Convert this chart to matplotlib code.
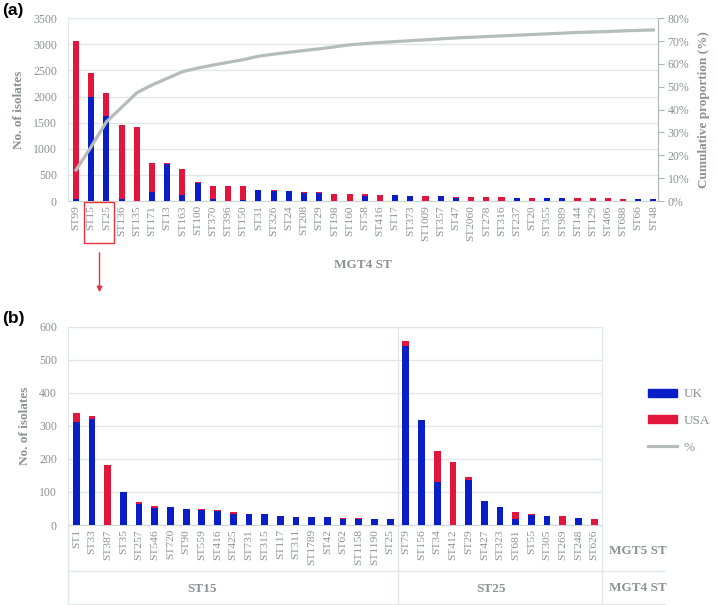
import matplotlib.pyplot as plt
import numpy as np
from matplotlib.lines import Line2D
from matplotlib.patches import Patch, Rectangle, FancyArrowPatch

# ---- panel (a): MGT4 STs ----
mgt4_st = ["ST99", "ST15", "ST25", "ST136", "ST135", "ST171", "ST13", "ST163",
           "ST100", "ST370", "ST396", "ST150", "ST31", "ST326", "ST24", "ST208",
           "ST29", "ST198", "ST160", "ST58", "ST416", "ST17", "ST373", "ST1009",
           "ST357", "ST47", "ST2060", "ST278", "ST316", "ST237", "ST20", "ST355",
           "ST989", "ST144", "ST129", "ST406", "ST688", "ST66", "ST48"]
mgt4_uk = [40, 2000, 1630, 30, 0, 180, 705, 115, 340, 30, 0, 15, 207, 185, 187,
           162, 152, 0, 0, 89, 0, 110, 89, 0, 89, 57, 0, 0, 0, 64, 0, 57, 57,
           0, 0, 0, 0, 42, 45]
mgt4_usa = [3025, 458, 445, 1432, 1411, 548, 17, 498, 25, 262, 290, 268, 4, 19,
            4, 10, 14, 140, 140, 38, 115, 5, 13, 96, 0, 19, 70, 70, 70, 0, 57,
            0, 0, 51, 51, 51, 45, 3, 0]
cum_pct = [13.6, 23.8, 34.7, 41.0, 47.4, 50.8, 53.7, 56.6, 58.2, 59.5, 60.7,
           61.9, 63.4, 64.3, 65.1, 65.9, 66.6, 67.5, 68.4, 68.9, 69.4, 69.8,
           70.2, 70.6, 71.0, 71.4, 71.7, 72.0, 72.3, 72.6, 72.9, 73.2, 73.5,
           73.8, 74.0, 74.2, 74.5, 74.7, 74.9]

# ---- panel (b): MGT5 STs within ST15 and ST25 ----
st15_mgt5 = ["ST1", "ST33", "ST387", "ST35", "ST257", "ST546", "ST720", "ST90",
             "ST559", "ST416", "ST425", "ST731", "ST315", "ST117", "ST311",
             "ST1789", "ST42", "ST62", "ST1158", "ST1190", "ST25"]
st15_uk = [313, 322, 0, 101, 65, 52, 54, 49, 46, 43, 32, 34, 33, 27, 24, 23, 23,
           17, 19, 19, 19]
st15_usa = [25, 7, 183, 0, 5, 4, 0, 0, 1, 2, 7, 0, 0, 0, 0, 0, 0, 4, 1, 0, 0]
st25_mgt5 = ["ST79", "ST156", "ST34", "ST412", "ST29", "ST427", "ST323",
             "ST681", "ST55", "ST305", "ST269", "ST248", "ST626"]
st25_uk = [542, 318, 131, 0, 135, 72, 53, 19, 30, 26, 0, 20, 0]
st25_usa = [16, 0, 94, 190, 10, 0, 0, 19, 2, 0, 26, 0, 18]

BLUE = "#0a1ec8"
RED = "#e2163c"
LINE = "#b4bcbc"
TXT = "#8a9292"
GRID = "#e3e6e6"
SERIF = "Liberation Serif"

W, H = 717, 605


def px(x, y):
    return x / W, 1 - y / H


fig = plt.figure(figsize=(7.17, 6.05), dpi=100)

# ================= panel (a) =================
ax1 = fig.add_axes([68 / W, 1 - 201 / H, 590 / W, 182.7 / H])
x1 = np.arange(len(mgt4_st))
ax1.bar(x1, mgt4_uk, width=0.4, color=BLUE, zorder=3)
ax1.bar(x1, mgt4_usa, width=0.4, bottom=mgt4_uk, color=RED, zorder=3)
ax1.set_xlim(-0.53, 38.3)
ax1.set_ylim(0, 3500)
ax1.set_yticks(np.arange(0, 3501, 500))
ax1.grid(axis="y", color=GRID, lw=1, zorder=0)
ax1.set_xticks(x1)
ax1.set_xticklabels(mgt4_st, rotation=90, family=SERIF, fontsize=8.2, color=TXT)
ax1.tick_params(axis="x", length=0, pad=3)
ax1.tick_params(axis="y", length=0, pad=8, labelcolor=TXT, labelsize=8.5)
for lab in ax1.get_yticklabels():
    lab.set_family(SERIF)
for s in ["top", "right"]:
    ax1.spines[s].set_visible(False)
ax1.spines["left"].set_color(GRID)
ax1.spines["bottom"].set_color("#d0d4d4")
ax1.set_ylabel("No. of isolates", family=SERIF, fontsize=9.5, fontweight="bold",
               color=TXT, labelpad=6)
ax1.set_xlabel("MGT4 ST", family=SERIF, fontsize=9.5, fontweight="bold",
               color=TXT, labelpad=13)

ax1r = ax1.twinx()
ax1r.plot(x1, np.array(cum_pct) / 100, color=LINE, lw=2.3, zorder=4)
ax1r.set_ylim(0, 0.8)
ax1r.set_yticks(np.arange(0, 0.81, 0.1))
ax1r.set_yticklabels([f"{int(round(v * 100))}%" for v in np.arange(0, 0.81, 0.1)],
                     family=SERIF, fontsize=8.5, color=TXT)
ax1r.tick_params(axis="y", length=4, color="#b0b4b4", pad=3)
for s in ["top", "left", "bottom"]:
    ax1r.spines[s].set_visible(False)
ax1r.spines["right"].set_color("#b0b4b4")
ax1r.set_ylabel("Cumulative proportion (%)", family=SERIF, fontsize=9.5,
                fontweight="bold", color=TXT, labelpad=6)

# highlight box around ST15/ST25 labels and arrow
x0, y0 = px(84, 243)
x1b, y1b = px(114, 202)
fig.add_artist(Rectangle((x0, y0), x1b - x0, y1b - y0, transform=fig.transFigure,
                         fill=False, edgecolor="#e8323c", lw=1))
fig.add_artist(FancyArrowPatch(px(99.5, 250), px(99.5, 295),
                               transform=fig.transFigure, arrowstyle="-|>",
                               mutation_scale=8, color="#e8323c", lw=1))

# ================= panel (b) =================
ax2 = fig.add_axes([68 / W, 1 - 525 / H, 534 / W, 198.3 / H])
names_b = st15_mgt5 + st25_mgt5
uk_b = st15_uk + st25_uk
usa_b = st15_usa + st25_usa
x2 = np.arange(len(names_b))
ax2.bar(x2, uk_b, width=0.43, color=BLUE, zorder=3)
ax2.bar(x2, usa_b, width=0.43, bottom=uk_b, color=RED, zorder=3)
ax2.set_xlim(-0.53, 33.5)
ax2.set_ylim(0, 600)
ax2.set_yticks(np.arange(0, 601, 100))
ax2.grid(axis="y", color=GRID, lw=1, zorder=0)
ax2.set_xticks(x2)
ax2.set_xticklabels(names_b, rotation=90, family=SERIF, fontsize=8.2, color=TXT)
ax2.tick_params(axis="x", length=0, pad=3)
ax2.tick_params(axis="y", length=0, pad=8, labelcolor=TXT, labelsize=8.5)
for lab in ax2.get_yticklabels():
    lab.set_family(SERIF)
for s in ax2.spines.values():
    s.set_color(GRID)
ax2.spines["bottom"].set_color("#d0d4d4")
ax2.axvline(len(st15_mgt5) - 0.5, color=GRID, lw=1, zorder=1)
ax2.set_ylabel("No. of isolates", family=SERIF, fontsize=9.5, fontweight="bold",
               color=TXT, labelpad=6)

# category table under panel (b)
split_px = 68 + (len(st15_mgt5) - 0.5 + 0.53) * 534 / 34.03
for xv in [68, split_px, 602]:
    fig.add_artist(Line2D(*zip(px(xv, 525), px(xv, 604)),
                          transform=fig.transFigure, color=GRID, lw=1))
for yv in [571, 604]:
    fig.add_artist(Line2D(*zip(px(68, yv), px(665, yv)),
                          transform=fig.transFigure, color=GRID, lw=1))
fig.text(*px(609, 551), "MGT5 ST", family=SERIF, fontsize=9.5, fontweight="bold",
         color=TXT, va="center", ha="left")
fig.text(*px(609, 588), "MGT4 ST", family=SERIF, fontsize=9.5, fontweight="bold",
         color=TXT, va="center", ha="left")
fig.text(*px(202, 589), "ST15", family=SERIF, fontsize=9.5, fontweight="bold",
         color=TXT, va="center", ha="center")
fig.text(*px(491, 589), "ST25", family=SERIF, fontsize=9.5, fontweight="bold",
         color=TXT, va="center", ha="center")

# legend
handles = [Patch(color=BLUE), Patch(color=RED), Line2D([], [], color=LINE, lw=2.3)]
leg = fig.legend(handles, ["UK", "USA", "%"], loc="center left",
                 bbox_to_anchor=px(636, 421), frameon=False,
                 prop={"family": SERIF, "size": 9.5}, handlelength=2.2,
                 handleheight=0.55, labelspacing=1.1, handletextpad=0.5)
for t in leg.get_texts():
    t.set_color(TXT)

# panel letters
fig.text(*px(2, 10), "(a)", fontsize=12.5, fontweight="bold",
         family="Liberation Sans", va="center", ha="left")
fig.text(*px(2, 318), "(b)", fontsize=12.5, fontweight="bold",
         family="Liberation Sans", va="center", ha="left")

fig.savefig("out.png", dpi=100)
